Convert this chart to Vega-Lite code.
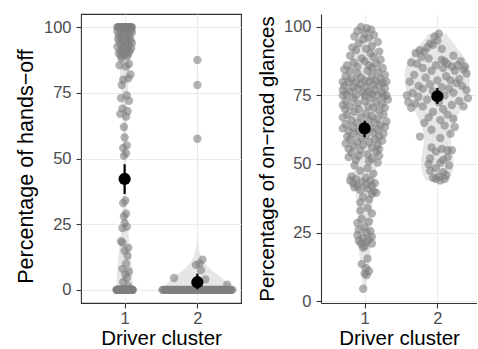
{
"$schema":"https://vega.github.io/schema/vega-lite/v6.json",
"padding":{"left":14,"top":13,"right":0,"bottom":0},
"autosize":{"type":"pad"},
"spacing":15,
"config":{
"font":"Liberation Sans",
"view":{"stroke":"#333333","strokeWidth":1.1},
"axis":{"labelFont":"Liberation Sans","titleFont":"Liberation Sans","labelFontSize":16.5,"titleFontSize":20.5,"labelColor":"#4D4D4D","titleColor":"#000000","titleFontWeight":"normal","tickColor":"#333333","tickSize":5,"tickWidth":1.1,"domain":false,"gridColor":"#EBEBEB","gridWidth":1.1,"labelPadding":5,"titlePadding":6}
},
"datasets":{
"ML":[{"c":1,"m":42.2,"lo":36.5,"hi":47.8},{"c":2,"m":2.9,"lo":0.2,"hi":6.2}],
"MR":[{"c":1,"m":63,"lo":59.8,"hi":65.8},{"c":2,"m":74.7,"lo":71.9,"hi":77.7}],
"L":[
{"c":1,"v":0,"j":-0.11},{"c":1,"v":0,"j":-0.08},{"c":1,"v":0,"j":-0.05},{"c":1,"v":0,"j":-0.02},{"c":1,"v":0,"j":0.01},{"c":1,"v":0,"j":0.04},{"c":1,"v":0,"j":0.07},{"c":1,"v":0,"j":0.1},
{"c":1,"v":0,"j":-0.1},{"c":1,"v":0,"j":-0.07},{"c":1,"v":0,"j":-0.04},{"c":1,"v":0,"j":-0.01},{"c":1,"v":0,"j":0.02},{"c":1,"v":0,"j":0.05},{"c":1,"v":0,"j":0.08},{"c":1,"v":0,"j":0.11},
{"c":1,"v":0,"j":-0.09},{"c":1,"v":0,"j":-0.06},{"c":1,"v":0,"j":-0.03},{"c":1,"v":0,"j":0},{"c":1,"v":0,"j":0.03},{"c":1,"v":0,"j":0.06},{"c":1,"v":0,"j":0.09},{"c":1,"v":0,"j":-0.105},
{"c":1,"v":0,"j":-0.075},{"c":1,"v":0,"j":-0.045},{"c":1,"v":0,"j":-0.015},{"c":1,"v":0,"j":0.015},{"c":1,"v":0,"j":0.045},{"c":1,"v":0,"j":0.075},{"c":1,"v":0,"j":0.105},{"c":1,"v":0,"j":-0.095},
{"c":1,"v":0,"j":-0.065},{"c":1,"v":0,"j":-0.035},{"c":1,"v":0,"j":-0.005},{"c":1,"v":0,"j":0.025},{"c":1,"v":0,"j":0.055},{"c":1,"v":0,"j":0.085},{"c":1,"v":0,"j":-0.085},{"c":1,"v":0,"j":-0.055},
{"c":1,"v":0,"j":-0.025},{"c":1,"v":0,"j":0.005},{"c":1,"v":0,"j":0.035},{"c":1,"v":0,"j":0.065},{"c":1,"v":0,"j":0.095},{"c":1,"v":0,"j":-0.1},{"c":1,"v":0,"j":-0.06},{"c":1,"v":0,"j":-0.02},
{"c":1,"v":0,"j":0.02},{"c":1,"v":0,"j":0.06},{"c":1,"v":0,"j":0.1},{"c":1,"v":0,"j":-0.08},{"c":1,"v":0,"j":-0.04},{"c":1,"v":0,"j":0},{"c":1,"v":0,"j":0.04},{"c":1,"v":0,"j":0.08},
{"c":1,"v":0,"j":-0.11},{"c":1,"v":0,"j":-0.07},{"c":1,"v":0,"j":-0.03},{"c":1,"v":0,"j":0.01},{"c":1,"v":0,"j":0.05},{"c":1,"v":0,"j":0.09},{"c":1,"v":0,"j":-0.09},{"c":1,"v":0,"j":-0.05},
{"c":1,"v":0,"j":-0.01},{"c":1,"v":0,"j":0.03},{"c":1,"v":0,"j":0.07},{"c":1,"v":0,"j":0.11},{"c":1,"v":0,"j":-0.1},{"c":1,"v":0,"j":-0.06},{"c":1,"v":0,"j":-0.02},{"c":1,"v":0,"j":0.02},{"c":1,"v":0,"j":0.06},{"c":1,"v":0,"j":0.1},{"c":1,"v":0,"j":0},
{"c":1,"v":100,"j":-0.1},{"c":1,"v":100,"j":-0.08},{"c":1,"v":100,"j":-0.06},{"c":1,"v":100,"j":-0.04},{"c":1,"v":100,"j":-0.02},{"c":1,"v":100,"j":0},{"c":1,"v":100,"j":0.02},{"c":1,"v":100,"j":0.04},{"c":1,"v":100,"j":0.06},{"c":1,"v":100,"j":0.08},{"c":1,"v":100,"j":0.1},
{"c":1,"v":100,"j":-0.09},{"c":1,"v":100,"j":-0.07},{"c":1,"v":100,"j":-0.05},{"c":1,"v":100,"j":-0.03},{"c":1,"v":100,"j":-0.01},{"c":1,"v":100,"j":0.01},{"c":1,"v":100,"j":0.03},{"c":1,"v":100,"j":0.05},{"c":1,"v":100,"j":0.07},{"c":1,"v":100,"j":0.09},{"c":1,"v":100,"j":0},
{"c":1,"v":99.5,"j":0.06},{"c":1,"v":99,"j":-0.05},{"c":1,"v":99,"j":0.09},{"c":1,"v":98.5,"j":-0.1},{"c":1,"v":98.5,"j":0.02},{"c":1,"v":98,"j":-0.03},{"c":1,"v":98,"j":0.1},{"c":1,"v":97.5,"j":0.05},{"c":1,"v":97,"j":-0.08},{"c":1,"v":97,"j":0},
{"c":1,"v":96.5,"j":0.07},{"c":1,"v":96,"j":-0.06},{"c":1,"v":96,"j":0.03},{"c":1,"v":95.5,"j":-0.09},{"c":1,"v":95,"j":0.08},{"c":1,"v":95,"j":-0.02},{"c":1,"v":94.5,"j":0.04},{"c":1,"v":94,"j":-0.07},{"c":1,"v":94,"j":0.1},{"c":1,"v":93.5,"j":0.01},
{"c":1,"v":93,"j":-0.04},{"c":1,"v":93,"j":0.06},{"c":1,"v":92.5,"j":-0.1},{"c":1,"v":92,"j":0.09},{"c":1,"v":92,"j":-0.01},{"c":1,"v":91.5,"j":0.03},{"c":1,"v":91,"j":-0.06},{"c":1,"v":91,"j":0.07},{"c":1,"v":90.5,"j":-0.03},{"c":1,"v":90,"j":0.05},
{"c":1,"v":90,"j":-0.08},{"c":1,"v":89.5,"j":0},{"c":1,"v":89,"j":0.04},{"c":1,"v":89,"j":-0.05},
{"c":1,"v":88,"j":-0.04},{"c":1,"v":86,"j":0.06},{"c":1,"v":85.5,"j":-0.07},{"c":1,"v":85,"j":0.02},
{"c":1,"v":82,"j":0.08},{"c":1,"v":80,"j":-0.02},{"c":1,"v":80.5,"j":0.05},{"c":1,"v":78,"j":-0.04},{"c":1,"v":74,"j":0.03},{"c":1,"v":73,"j":-0.05},{"c":1,"v":72,"j":0.06},{"c":1,"v":69,"j":-0.03},{"c":1,"v":68,"j":0.04},
{"c":1,"v":67,"j":-0.06},{"c":1,"v":66,"j":0.02},{"c":1,"v":62,"j":-0.01},{"c":1,"v":58,"j":0},{"c":1,"v":55,"j":0.03},{"c":1,"v":54,"j":-0.02},{"c":1,"v":52,"j":0.02},{"c":1,"v":51,"j":-0.01},
{"c":1,"v":34,"j":0.01},{"c":1,"v":33,"j":-0.02},{"c":1,"v":29,"j":0.02},{"c":1,"v":28,"j":-0.01},{"c":1,"v":25.5,"j":0},{"c":1,"v":24,"j":0.03},{"c":1,"v":23.5,"j":-0.03},{"c":1,"v":18.5,"j":-0.05},{"c":1,"v":18,"j":-0.03},{"c":1,"v":16,"j":0.05},
{"c":1,"v":15,"j":0},{"c":1,"v":13,"j":0.04},{"c":1,"v":10,"j":0.02},{"c":1,"v":8,"j":-0.03},{"c":1,"v":7,"j":0.06},{"c":1,"v":6,"j":0.01},{"c":1,"v":4.5,"j":0.03},{"c":1,"v":3,"j":-0.02},{"c":1,"v":1.5,"j":0.05},
{"c":2,"v":0,"j":-0.48},{"c":2,"v":0,"j":-0.47},{"c":2,"v":0,"j":-0.45},{"c":2,"v":0,"j":-0.44},{"c":2,"v":0,"j":-0.43},{"c":2,"v":0,"j":-0.41},{"c":2,"v":0,"j":-0.4},{"c":2,"v":0,"j":-0.39},{"c":2,"v":0,"j":-0.37},{"c":2,"v":0,"j":-0.36},
{"c":2,"v":0,"j":-0.35},{"c":2,"v":0,"j":-0.33},{"c":2,"v":0,"j":-0.32},{"c":2,"v":0,"j":-0.31},{"c":2,"v":0,"j":-0.29},{"c":2,"v":0,"j":-0.28},{"c":2,"v":0,"j":-0.27},{"c":2,"v":0,"j":-0.25},{"c":2,"v":0,"j":-0.24},{"c":2,"v":0,"j":-0.23},
{"c":2,"v":0,"j":-0.21},{"c":2,"v":0,"j":-0.2},{"c":2,"v":0,"j":-0.19},{"c":2,"v":0,"j":-0.17},{"c":2,"v":0,"j":-0.16},{"c":2,"v":0,"j":-0.15},{"c":2,"v":0,"j":-0.13},{"c":2,"v":0,"j":-0.12},{"c":2,"v":0,"j":-0.11},{"c":2,"v":0,"j":-0.09},
{"c":2,"v":0,"j":-0.08},{"c":2,"v":0,"j":-0.07},{"c":2,"v":0,"j":-0.05},{"c":2,"v":0,"j":-0.04},{"c":2,"v":0,"j":-0.03},{"c":2,"v":0,"j":-0.01},{"c":2,"v":0,"j":0},{"c":2,"v":0,"j":0.01},{"c":2,"v":0,"j":0.03},{"c":2,"v":0,"j":0.04},
{"c":2,"v":0,"j":0.05},{"c":2,"v":0,"j":0.07},{"c":2,"v":0,"j":0.08},{"c":2,"v":0,"j":0.09},{"c":2,"v":0,"j":0.11},{"c":2,"v":0,"j":0.12},{"c":2,"v":0,"j":0.13},{"c":2,"v":0,"j":0.15},{"c":2,"v":0,"j":0.16},{"c":2,"v":0,"j":0.17},
{"c":2,"v":0,"j":0.19},{"c":2,"v":0,"j":0.2},{"c":2,"v":0,"j":0.21},{"c":2,"v":0,"j":0.23},{"c":2,"v":0,"j":0.24},{"c":2,"v":0,"j":0.25},{"c":2,"v":0,"j":0.27},{"c":2,"v":0,"j":0.28},{"c":2,"v":0,"j":0.29},{"c":2,"v":0,"j":0.31},
{"c":2,"v":0,"j":0.32},{"c":2,"v":0,"j":0.33},{"c":2,"v":0,"j":0.35},{"c":2,"v":0,"j":0.36},{"c":2,"v":0,"j":0.37},{"c":2,"v":0,"j":0.39},{"c":2,"v":0,"j":0.4},{"c":2,"v":0,"j":0.41},{"c":2,"v":0,"j":0.43},{"c":2,"v":0,"j":0.44},
{"c":2,"v":0,"j":0.45},{"c":2,"v":0,"j":0.47},{"c":2,"v":0,"j":0.48},{"c":2,"v":0,"j":-0.02},
{"c":2,"v":87.5,"j":0},{"c":2,"v":78,"j":0},{"c":2,"v":57.5,"j":0},{"c":2,"v":11.5,"j":0.07},{"c":2,"v":10,"j":0.03},{"c":2,"v":9.5,"j":-0.02},{"c":2,"v":7.5,"j":0.05},{"c":2,"v":4.5,"j":-0.32},{"c":2,"v":4,"j":0.11},{"c":2,"v":2,"j":0.41}
],
"R":[
{"c":1,"v":100,"j":-0.05},{"c":1,"v":99.5,"j":0.03},{"c":1,"v":99,"j":0.09},{"c":1,"v":98.5,"j":-0.1},{"c":1,"v":97.5,"j":0},{"c":1,"v":97,"j":0.13},{"c":1,"v":96.5,"j":-0.14},{"c":1,"v":96,"j":0.06},{"c":1,"v":95.5,"j":-0.02},
{"c":1,"v":94.5,"j":0.18},{"c":1,"v":94,"j":-0.08},{"c":1,"v":93,"j":0.1},{"c":1,"v":92.5,"j":-0.17},{"c":1,"v":92,"j":0.02},{"c":1,"v":91.5,"j":-0.12},{"c":1,"v":91,"j":0.2},{"c":1,"v":90.5,"j":0.08},
{"c":1,"v":89.5,"j":-0.2},{"c":1,"v":89,"j":0.12},{"c":1,"v":88.5,"j":-0.04},{"c":1,"v":88,"j":0.22},{"c":1,"v":87.5,"j":0},{"c":1,"v":87,"j":-0.15},{"c":1,"v":86.5,"j":0.16},{"c":1,"v":86,"j":0.06},{"c":1,"v":86,"j":-0.24},{"c":1,"v":85.5,"j":-0.1},{"c":1,"v":85,"j":0.25},{"c":1,"v":85,"j":0.1},
{"c":1,"v":84.5,"j":-0.28},{"c":1,"v":84,"j":-0.2},{"c":1,"v":84,"j":0.04},{"c":1,"v":83.5,"j":0.18},{"c":1,"v":83,"j":-0.1},{"c":1,"v":82.5,"j":0.28},{"c":1,"v":82,"j":-0.26},{"c":1,"v":82,"j":0.1},{"c":1,"v":81.5,"j":-0.05},{"c":1,"v":81,"j":0.22},{"c":1,"v":81,"j":-0.18},{"c":1,"v":80.5,"j":0},{"c":1,"v":80.5,"j":0.15},{"c":1,"v":80,"j":-0.3},{"c":1,"v":80,"j":-0.12},{"c":1,"v":80,"j":0.3},{"c":1,"v":80,"j":0.06},{"c":1,"v":79.8,"j":-0.22},
{"c":1,"v":79.5,"j":0.25},{"c":1,"v":79,"j":-0.06},{"c":1,"v":79,"j":0.12},{"c":1,"v":78.5,"j":-0.28},{"c":1,"v":78.5,"j":0.2},{"c":1,"v":78,"j":-0.16},{"c":1,"v":78,"j":0.02},{"c":1,"v":77.5,"j":0.28},{"c":1,"v":77.5,"j":-0.09},{"c":1,"v":77,"j":0.14},{"c":1,"v":77,"j":-0.3},{"c":1,"v":76.5,"j":-0.2},{"c":1,"v":76.5,"j":0.06},{"c":1,"v":76,"j":0.24},{"c":1,"v":76,"j":-0.02},{"c":1,"v":75.5,"j":-0.25},{"c":1,"v":75.5,"j":0.1},{"c":1,"v":75,"j":0.3},{"c":1,"v":75,"j":-0.12},{"c":1,"v":75,"j":0.18},{"c":1,"v":75,"j":0},{"c":1,"v":75,"j":-0.3},
{"c":1,"v":74.5,"j":0.26},{"c":1,"v":74,"j":-0.16},{"c":1,"v":74,"j":0.08},{"c":1,"v":73.5,"j":0.32},{"c":1,"v":73,"j":-0.26},{"c":1,"v":73,"j":0},{"c":1,"v":72.5,"j":0.16},{"c":1,"v":72,"j":-0.1},{"c":1,"v":72,"j":0.24},{"c":1,"v":71.5,"j":-0.3},{"c":1,"v":71,"j":0.05},{"c":1,"v":71,"j":-0.2},{"c":1,"v":70.5,"j":0.12},{"c":1,"v":70.5,"j":0.28},{"c":1,"v":70,"j":-0.08},{"c":1,"v":70,"j":-0.27},
{"c":1,"v":69.5,"j":0.2},{"c":1,"v":69,"j":-0.14},{"c":1,"v":68.5,"j":0.02},{"c":1,"v":68,"j":0.26},{"c":1,"v":68,"j":-0.24},{"c":1,"v":67.5,"j":0.1},{"c":1,"v":67,"j":-0.05},{"c":1,"v":67,"j":-0.3},{"c":1,"v":66.5,"j":0.18},{"c":1,"v":66,"j":-0.18},{"c":1,"v":66,"j":0.06},{"c":1,"v":65.5,"j":0.3},{"c":1,"v":65,"j":-0.1},{"c":1,"v":65,"j":0.14},
{"c":1,"v":64.5,"j":-0.26},{"c":1,"v":64,"j":0.22},{"c":1,"v":64,"j":-0.02},{"c":1,"v":63.5,"j":0.28},{"c":1,"v":63.5,"j":-0.16},{"c":1,"v":63,"j":0.08},{"c":1,"v":63,"j":-0.3},{"c":1,"v":62.5,"j":0.18},{"c":1,"v":62,"j":-0.08},{"c":1,"v":62,"j":-0.22},{"c":1,"v":61.5,"j":0.12},{"c":1,"v":61,"j":0.26},{"c":1,"v":61,"j":-0.14},{"c":1,"v":60.5,"j":0.02},{"c":1,"v":60,"j":-0.24},{"c":1,"v":60,"j":0.2},
{"c":1,"v":59.5,"j":-0.04},{"c":1,"v":59,"j":0.14},{"c":1,"v":59,"j":-0.2},{"c":1,"v":58.5,"j":0.24},{"c":1,"v":58,"j":-0.1},{"c":1,"v":58,"j":0.06},{"c":1,"v":57.5,"j":-0.26},{"c":1,"v":57,"j":0.18},{"c":1,"v":57,"j":-0.02},{"c":1,"v":56.5,"j":-0.15},{"c":1,"v":56,"j":0.1},{"c":1,"v":55.5,"j":-0.22},{"c":1,"v":55.5,"j":0.2},{"c":1,"v":55,"j":-0.06},
{"c":1,"v":54.5,"j":0.16},{"c":1,"v":54,"j":-0.18},{"c":1,"v":53.5,"j":0.04},{"c":1,"v":53,"j":-0.08},{"c":1,"v":53,"j":0.2},{"c":1,"v":52.5,"j":-0.22},{"c":1,"v":52,"j":0.1},{"c":1,"v":51.5,"j":-0.12},{"c":1,"v":51,"j":0.06},{"c":1,"v":50.5,"j":0.18},
{"c":1,"v":49.5,"j":-0.14},{"c":1,"v":48.5,"j":0.04},{"c":1,"v":47.5,"j":-0.06},{"c":1,"v":46.5,"j":0.12},{"c":1,"v":45.5,"j":-0.18},
{"c":1,"v":45,"j":0.02},{"c":1,"v":44.5,"j":-0.12},{"c":1,"v":44,"j":0.08},{"c":1,"v":44,"j":-0.2},{"c":1,"v":43.5,"j":-0.04},{"c":1,"v":43,"j":0.14},{"c":1,"v":43,"j":-0.16},{"c":1,"v":42.5,"j":0.02},{"c":1,"v":42,"j":-0.1},{"c":1,"v":42,"j":0.1},{"c":1,"v":41.5,"j":-0.14},{"c":1,"v":41,"j":0.04},{"c":1,"v":40.5,"j":-0.06},{"c":1,"v":40,"j":0.12},
{"c":1,"v":39.5,"j":0.16},{"c":1,"v":39,"j":0.1},{"c":1,"v":38,"j":-0.02},{"c":1,"v":37,"j":0.06},{"c":1,"v":36,"j":-0.06},
{"c":1,"v":34,"j":0.04},{"c":1,"v":33,"j":-0.06},{"c":1,"v":32,"j":0.1},
{"c":1,"v":30,"j":-0.04},{"c":1,"v":29,"j":0.06},{"c":1,"v":28.5,"j":-0.1},{"c":1,"v":27,"j":0},{"c":1,"v":26,"j":-0.08},{"c":1,"v":25.5,"j":0.08},
{"c":1,"v":25,"j":0.02},{"c":1,"v":24,"j":-0.1},{"c":1,"v":23.5,"j":0.1},{"c":1,"v":23,"j":-0.02},{"c":1,"v":22.5,"j":0.06},{"c":1,"v":22,"j":-0.08},{"c":1,"v":21.5,"j":0.02},{"c":1,"v":21,"j":0.1},{"c":1,"v":21,"j":-0.05},{"c":1,"v":20,"j":0},
{"c":1,"v":19.5,"j":-0.02},{"c":1,"v":15.5,"j":0.04},{"c":1,"v":13.5,"j":-0.04},{"c":1,"v":12,"j":0.02},{"c":1,"v":11,"j":0.06},{"c":1,"v":10,"j":0},{"c":1,"v":9.5,"j":0.03},{"c":1,"v":4.5,"j":-0.02},
{"c":2,"v":97.5,"j":0.02},{"c":2,"v":96.5,"j":-0.04},{"c":2,"v":95,"j":0},{"c":2,"v":94,"j":-0.1},{"c":2,"v":93.5,"j":-0.06},{"c":2,"v":92.5,"j":-0.14},{"c":2,"v":91.5,"j":-0.24},{"c":2,"v":91,"j":-0.18},{"c":2,"v":92,"j":0.06},{"c":2,"v":90.5,"j":-0.3},
{"c":2,"v":89.5,"j":0.22},{"c":2,"v":88.5,"j":-0.12},{"c":2,"v":88,"j":0.06},{"c":2,"v":87.5,"j":0.32},{"c":2,"v":87,"j":-0.36},{"c":2,"v":86.5,"j":0.14},{"c":2,"v":86,"j":0.28},{"c":2,"v":86,"j":-0.02},{"c":2,"v":85.5,"j":0.38},{"c":2,"v":85.5,"j":0.2},{"c":2,"v":85,"j":-0.2},{"c":2,"v":85,"j":0.08},{"c":2,"v":84.5,"j":0.36},{"c":2,"v":84,"j":-0.08},{"c":2,"v":84,"j":0.24},
{"c":2,"v":89,"j":-0.22},{"c":2,"v":87.5,"j":0.1},{"c":2,"v":86.5,"j":-0.28},
{"c":2,"v":83,"j":0.4},{"c":2,"v":82.5,"j":-0.32},{"c":2,"v":82,"j":0.12},{"c":2,"v":81.5,"j":-0.16},{"c":2,"v":81,"j":0.3},{"c":2,"v":80.5,"j":0},{"c":2,"v":80.5,"j":0.18},{"c":2,"v":80,"j":-0.38},{"c":2,"v":79.5,"j":0.26},{"c":2,"v":79,"j":-0.1},{"c":2,"v":78.5,"j":0.34},{"c":2,"v":78.5,"j":-0.26},{"c":2,"v":78,"j":0.06},{"c":2,"v":77.5,"j":-0.2},{"c":2,"v":77.5,"j":0.16},{"c":2,"v":77,"j":0.4},{"c":2,"v":76.5,"j":-0.06},{"c":2,"v":76,"j":-0.34},{"c":2,"v":76,"j":0.22},
{"c":2,"v":75,"j":-0.42},{"c":2,"v":75,"j":0.1},{"c":2,"v":74.5,"j":-0.26},{"c":2,"v":74,"j":0.42},{"c":2,"v":73.5,"j":-0.14},{"c":2,"v":73,"j":0.3},{"c":2,"v":72.5,"j":-0.4},{"c":2,"v":72.5,"j":0.02},{"c":2,"v":72,"j":-0.3},{"c":2,"v":71.5,"j":0.2},{"c":2,"v":71,"j":0.36},{"c":2,"v":71,"j":-0.2},{"c":2,"v":70.5,"j":-0.36},{"c":2,"v":70,"j":0.08},
{"c":2,"v":69,"j":-0.06},{"c":2,"v":68,"j":0.14},{"c":2,"v":67,"j":-0.12},{"c":2,"v":66.5,"j":0.22},{"c":2,"v":66,"j":0.04},{"c":2,"v":65,"j":-0.18},{"c":2,"v":64,"j":0.1},{"c":2,"v":63.5,"j":0.24},{"c":2,"v":62.5,"j":-0.08},{"c":2,"v":61,"j":0.18},{"c":2,"v":60,"j":-0.24},{"c":2,"v":59.5,"j":0.04},
{"c":2,"v":56,"j":-0.08},{"c":2,"v":55.5,"j":0.06},{"c":2,"v":55,"j":0.14},{"c":2,"v":54.5,"j":-0.02},{"c":2,"v":55,"j":0.2},{"c":2,"v":52,"j":-0.1},{"c":2,"v":51.5,"j":0.08},{"c":2,"v":50.5,"j":0.04},{"c":2,"v":49.5,"j":0.16},{"c":2,"v":48.5,"j":-0.02},{"c":2,"v":47,"j":0.08},{"c":2,"v":45.5,"j":0.02},{"c":2,"v":45,"j":-0.06},{"c":2,"v":44.5,"j":-0.02},{"c":2,"v":44,"j":0.04},
{"c":2,"v":52.5,"j":0.14},{"c":2,"v":50,"j":-0.12},{"c":2,"v":47.5,"j":-0.1},{"c":2,"v":46,"j":0.12},{"c":2,"v":44.5,"j":0.1}
]
},
"hconcat":[
{
"width":160,"height":289,
"layer":[
{"data":{"name":"L"},
"transform":[
{"filter":"datum.c == 1"},
{"density":"v","bandwidth":14.5,"as":["value","density"]},
{"joinaggregate":[{"op":"max","field":"density","as":"md"}]},
{"calculate":"1 - 0.11*datum.density/datum.md","as":"xl"},
{"calculate":"1 + 0.11*datum.density/datum.md","as":"xr"}
],
"mark":{"type":"area","orient":"horizontal","color":"#E6E6E6"},
"encoding":{
"y":{"field":"value","type":"quantitative","scale":{"domain":[-5,105],"nice":false,"zero":false},"axis":{"values":[0,12.5,25,37.5,50,62.5,75,87.5,100],"labelExpr":"datum.value % 25 == 0 ? datum.label : ''","tickOpacity":{"condition":{"test":"datum.value % 25 != 0","value":0},"value":1},"gridWidth":{"condition":{"test":"datum.value % 25 != 0","value":0.55},"value":1.1},"title":"Percentage of hands−off","titleFontSize":21.5,"titleY":152,"grid":true}},
"x":{"field":"xl","type":"quantitative","scale":{"domain":[0.4,2.6],"nice":false,"zero":false},"axis":{"values":[1,2],"format":"d","title":"Driver cluster","grid":true,"labelFlush":false,"labelPadding":2,"titlePadding":2}},
"x2":{"field":"xr"}
}},
{"data":{"name":"L"},
"transform":[
{"filter":"datum.c == 2"},
{"density":"v","bandwidth":5.4,"as":["value","density"]},
{"joinaggregate":[{"op":"max","field":"density","as":"md"}]},
{"calculate":"2 - 0.45*datum.density/datum.md","as":"xl"},
{"calculate":"2 + 0.45*datum.density/datum.md","as":"xr"}
],
"mark":{"type":"area","orient":"horizontal","color":"#E6E6E6"},
"encoding":{
"y":{"field":"value","type":"quantitative"},
"x":{"field":"xl","type":"quantitative"},
"x2":{"field":"xr"}
}},
{"data":{"name":"L"},
"transform":[{"calculate":"datum.c + datum.j","as":"xp"}],
"mark":{"type":"circle","size":70,"color":"#7F7F7F","opacity":0.6},
"encoding":{
"x":{"field":"xp","type":"quantitative"},
"y":{"field":"v","type":"quantitative"}
}},
{"data":{"name":"ML"},
"mark":{"type":"rule","color":"black","strokeWidth":2.2},
"encoding":{"x":{"field":"c","type":"quantitative"},"y":{"field":"lo","type":"quantitative"},"y2":{"field":"hi"}}},
{"data":{"name":"ML"},
"mark":{"type":"circle","size":150,"color":"black","opacity":1},
"encoding":{"x":{"field":"c","type":"quantitative"},"y":{"field":"m","type":"quantitative"}}}
]
},
{
"width":156,"height":289,
"view":{"stroke":null},
"layer":[
{"data":{"name":"R"},
"transform":[
{"filter":"datum.c == 1"},
{"density":"v","bandwidth":6.6,"as":["value","density"]},
{"joinaggregate":[{"op":"max","field":"density","as":"md"}]},
{"calculate":"1 - 0.29*datum.density/datum.md","as":"xl"},
{"calculate":"1 + 0.29*datum.density/datum.md","as":"xr"}
],
"mark":{"type":"area","orient":"horizontal","color":"#E6E6E6"},
"encoding":{
"y":{"field":"value","type":"quantitative","scale":{"domain":[-0.7,104.7],"nice":false,"zero":false},"axis":{"values":[0,12.5,25,37.5,50,62.5,75,87.5,100],"labelExpr":"datum.value % 25 == 0 ? datum.label : ''","tickOpacity":{"condition":{"test":"datum.value % 25 != 0","value":0},"value":1},"gridWidth":{"condition":{"test":"datum.value % 25 != 0","value":0.55},"value":1.1},"title":"Percentage of on−road glances","grid":true,"domain":true,"domainColor":"#333333","domainWidth":1.1}},
"x":{"field":"xl","type":"quantitative","scale":{"domain":[0.4,2.545],"nice":false,"zero":false},"axis":{"values":[1,2],"format":"d","title":"Driver cluster","grid":true,"labelFlush":false,"labelPadding":2,"titlePadding":2,"domain":true,"domainColor":"#333333","domainWidth":1.1}},
"x2":{"field":"xr"}
}},
{"data":{"name":"R"},
"transform":[
{"filter":"datum.c == 2"},
{"density":"v","bandwidth":4.8,"as":["value","density"]},
{"joinaggregate":[{"op":"max","field":"density","as":"md"}]},
{"calculate":"2 - 0.45*datum.density/datum.md","as":"xl"},
{"calculate":"2 + 0.45*datum.density/datum.md","as":"xr"}
],
"mark":{"type":"area","orient":"horizontal","color":"#E6E6E6"},
"encoding":{
"y":{"field":"value","type":"quantitative"},
"x":{"field":"xl","type":"quantitative"},
"x2":{"field":"xr"}
}},
{"data":{"name":"R"},
"transform":[{"calculate":"datum.c + datum.j","as":"xp"}],
"mark":{"type":"circle","size":70,"color":"#7F7F7F","opacity":0.6},
"encoding":{
"x":{"field":"xp","type":"quantitative"},
"y":{"field":"v","type":"quantitative"}
}},
{"data":{"name":"MR"},
"mark":{"type":"rule","color":"black","strokeWidth":2.2},
"encoding":{"x":{"field":"c","type":"quantitative"},"y":{"field":"lo","type":"quantitative"},"y2":{"field":"hi"}}},
{"data":{"name":"MR"},
"mark":{"type":"circle","size":150,"color":"black","opacity":1},
"encoding":{"x":{"field":"c","type":"quantitative"},"y":{"field":"m","type":"quantitative"}}},
{"mark":{"type":"rule","color":"#333333","strokeWidth":1.1},
"encoding":{"y":{"datum":104.7}}}
]
}
]
}
